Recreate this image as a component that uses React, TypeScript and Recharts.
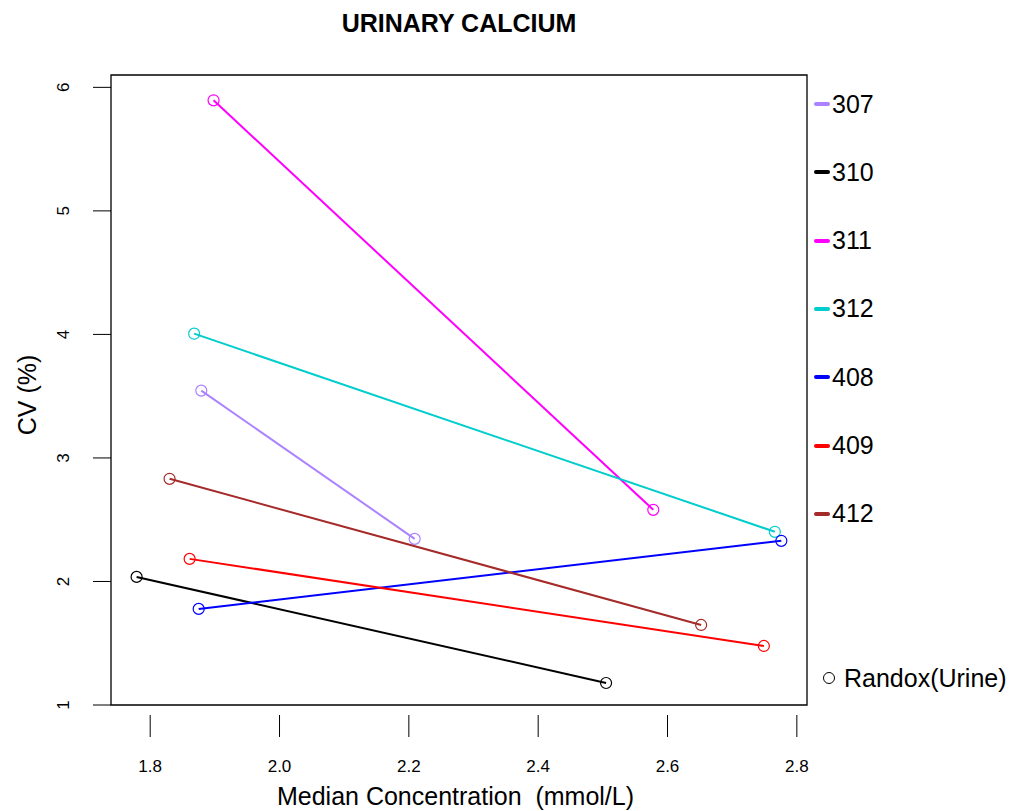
import React from 'react'
import {
  ScatterChart,
  Scatter,
  XAxis,
  YAxis,
  ReferenceArea
} from 'recharts'

// lab codes and their colours (legend order)
const labs = ['307', '310', '311', '312', '408', '409', '412']
const labColors = ['#AB82FF', '#000000', '#FF00FF', '#00CDCD', '#0000FF', '#FF0000', '#A52A2A']

// median concentration (mmol/L) and CV (%) for the two levels of each lab
const medianLevel1 = [1.879, 1.779, 1.898, 1.868, 1.875, 1.861, 1.830]
const cvLevel1 = [3.545, 2.037, 5.895, 4.006, 1.778, 2.183, 2.831]
const medianLevel2 = [2.209, 2.505, 2.578, 2.766, 2.776, 2.749, 2.652]
const cvLevel2 = [2.345, 1.178, 2.58, 2.402, 2.329, 1.478, 1.648]

const xTicks = [1.8, 2.0, 2.2, 2.4, 2.6, 2.8]
const yTicks = [1, 2, 3, 4, 5, 6]

const X_DOMAIN = [1.7394, 2.8157]
const Y_DOMAIN = [1, 6.1]

const FONT = 'Arial, "Liberation Sans", sans-serif'

const series = labs.map((lab, i) => ({
  lab,
  color: labColors[i],
  points: [
    { x: medianLevel1[i], y: cvLevel1[i] },
    { x: medianLevel2[i], y: cvLevel2[i] }
  ]
}))

const OpenCircle = (color: string) => (props: any) => {
  const { cx, cy } = props
  if (cx == null || cy == null) return null
  return <circle cx={cx} cy={cy} r={5.5} fill="none" stroke={color} strokeWidth={1.2} />
}

const XTick = ({ x, y, payload }: any) => (
  <g>
    <line x1={x} x2={x} y1={y + 10} y2={y + 32} stroke="#000" strokeWidth={1} />
    <text x={x} y={y + 67} textAnchor="middle" fontSize={17} fontFamily={FONT} fill="#000">
      {payload.value.toFixed(1)}
    </text>
  </g>
)

const YTick = ({ x, y, payload }: any) => (
  <text
    transform={`translate(${x - 24},${y}) rotate(-90)`}
    textAnchor="middle"
    fontSize={17}
    fontFamily={FONT}
    fill="#000"
  >
    {payload.value}
  </text>
)

const App: React.FC = () => {
  return (
    <div style={{ position: 'absolute', left: 0, top: 0, width: 1010, height: 811, background: '#fff', fontFamily: FONT }}>
      <ScatterChart
        width={1010}
        height={811}
        margin={{ top: 75, right: 203, bottom: 46, left: 51 }}
      >
        <XAxis
          type="number"
          dataKey="x"
          domain={X_DOMAIN}
          ticks={xTicks}
          allowDataOverflow
          axisLine={false}
          tickLine={false}
          tickSize={0}
          tickMargin={0}
          height={60}
          tick={<XTick />}
        />
        <YAxis
          type="number"
          dataKey="y"
          domain={Y_DOMAIN}
          ticks={yTicks}
          allowDataOverflow
          axisLine={false}
          tickLine={{ stroke: '#000', strokeWidth: 1 }}
          tickSize={18}
          tickMargin={0}
          width={60}
          tick={<YTick />}
        />
        <ReferenceArea
          x1={X_DOMAIN[0]}
          x2={X_DOMAIN[1]}
          y1={Y_DOMAIN[0]}
          y2={Y_DOMAIN[1]}
          ifOverflow="visible"
          fill="#fff"
          fillOpacity={0}
          stroke="#000"
          strokeWidth={1.3}
          strokeOpacity={1}
        />
        {series.map((s) => (
          <Scatter
            key={s.lab}
            name={s.lab}
            data={s.points}
            line={{ stroke: s.color, strokeWidth: 2 }}
            lineType="joint"
            shape={OpenCircle(s.color)}
            isAnimationActive={false}
          />
        ))}
      </ScatterChart>

      <div style={{ position: 'absolute', left: 0, width: 918, top: 9, textAlign: 'center', fontSize: 25, fontWeight: 'bold' }}>
        URINARY CALCIUM
      </div>
      <div style={{ position: 'absolute', left: 0, width: 911, top: 782, textAlign: 'center', fontSize: 25, whiteSpace: 'pre' }}>
        {'Median Concentration  (mmol/L)'}
      </div>
      <div
        style={{
          position: 'absolute',
          left: 27,
          top: 395,
          transform: 'translate(-50%, -50%) rotate(-90deg)',
          fontSize: 25,
          whiteSpace: 'nowrap'
        }}
      >
        CV (%)
      </div>

      {series.map((s, i) => (
        <div
          key={s.lab}
          style={{ position: 'absolute', left: 814, top: 104 + i * 68.3 - 15, height: 30, display: 'flex', alignItems: 'center' }}
        >
          <div style={{ width: 16, height: 4, background: s.color, borderRadius: 2 }} />
          <span style={{ fontSize: 25, marginLeft: 2 }}>{s.lab}</span>
        </div>
      ))}
      <div style={{ position: 'absolute', left: 823, top: 663, height: 30, display: 'flex', alignItems: 'center' }}>
        <div style={{ width: 12, height: 12, border: '1.3px solid #000', borderRadius: '50%', boxSizing: 'border-box' }} />
        <span style={{ fontSize: 25, marginLeft: 9 }}>Randox(Urine)</span>
      </div>
    </div>
  )
}

export default App
